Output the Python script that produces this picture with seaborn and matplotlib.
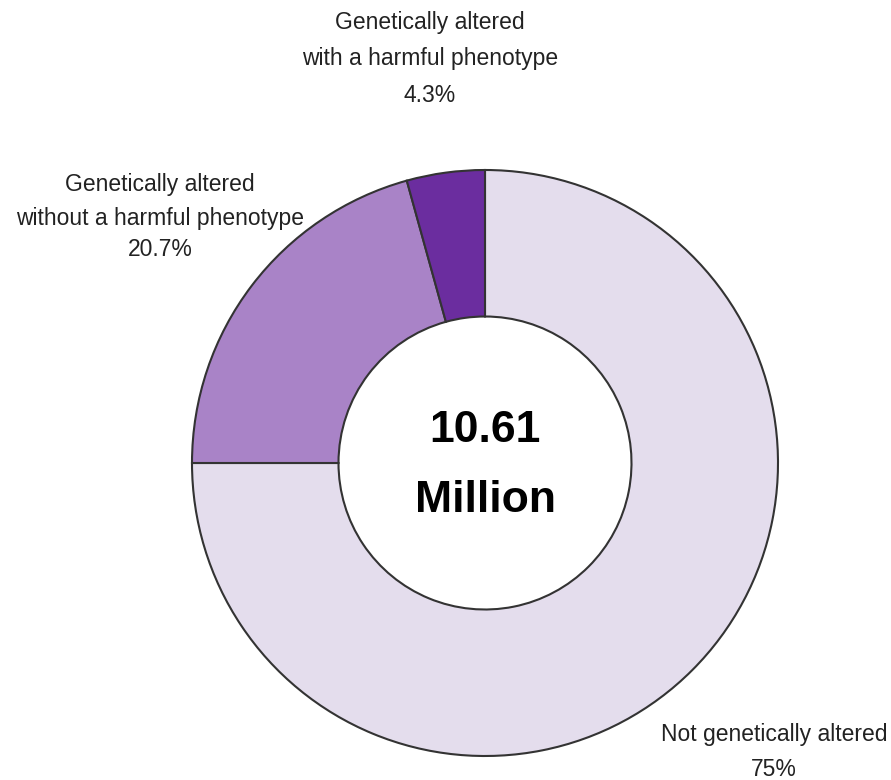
import matplotlib
matplotlib.use("Agg")
import matplotlib.pyplot as plt
import seaborn as sns

# Population breakdown (share of 10.61 million)
categories = ["Not genetically altered",
              "Genetically altered\nwithout a harmful phenotype",
              "Genetically altered\nwith a harmful phenotype"]
shares = [75.0, 20.7, 4.3]
share_labels = ["75%", "20.7%", "4.3%"]
total_label = ["10.61", "Million"]

colors = ["#e4dded", "#a983c7", "#6b2d9f"]

sns.set_theme(style="white")
plt.rcParams["font.family"] = ["Liberation Sans", "DejaVu Sans"]

W, H = 891, 780
fig = plt.figure(figsize=(W / 100, H / 100), dpi=100)
ax = fig.add_axes([0, 0, 1, 1])
ax.set_xlim(0, W)
ax.set_ylim(0, H)
ax.set_aspect("equal")
ax.axis("off")

cx, cy, R = 485, H - 463, 293
ax.pie(shares, colors=colors, startangle=90, counterclock=False,
       center=(cx, cy), radius=R, frame=True,
       wedgeprops=dict(width=R * 0.5, edgecolor="#333333", linewidth=1.5))
ax.set_xlim(0, W)
ax.set_ylim(0, H)
ax.axis("off")

# Center total
ax.text(cx, H - 430, total_label[0], ha="center", va="center",
        fontsize=32, fontweight="bold", color="black")
ax.text(cx, H - 500, total_label[1], ha="center", va="center",
        fontsize=32, fontweight="bold", color="black")

# Category labels
label_pos = [(774, [735, 770]),
             (160, [185, 218, 250]),
             (430, [22, 59, 95])]
for cat, pct, (x, ys) in zip(categories, share_labels, label_pos):
    lines = cat.split("\n") + [pct]
    for line, y in zip(lines, ys):
        ax.text(x, H - y, line, ha="center", va="center",
                fontsize=16.5, color="#222222")

fig.savefig("out.png", dpi=100)
